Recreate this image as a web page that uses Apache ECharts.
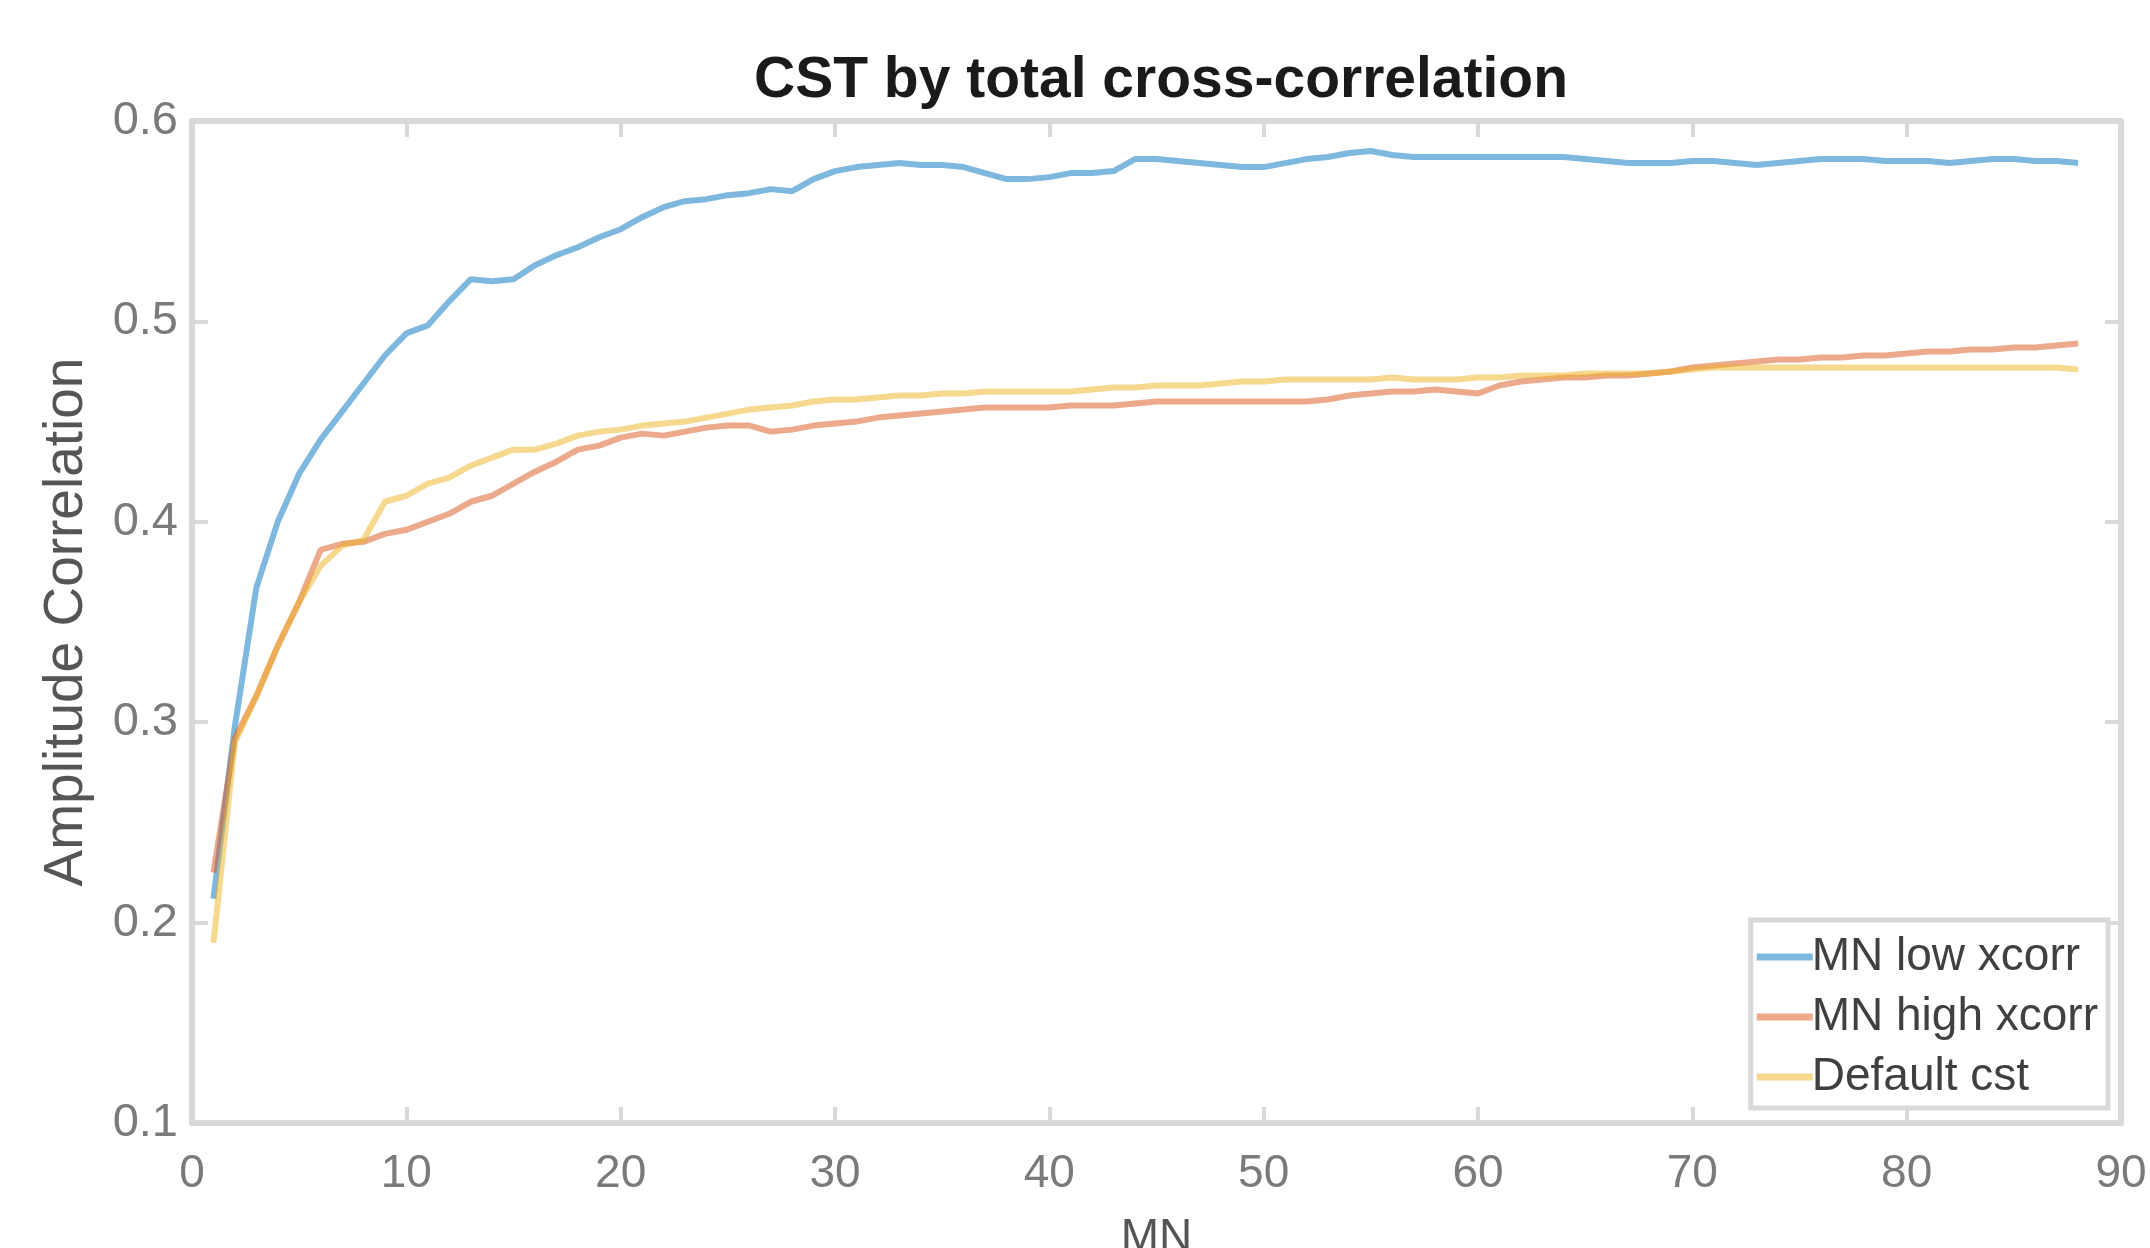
<!DOCTYPE html>
<html>
<head>
<meta charset="utf-8">
<script src="https://cdn.jsdelivr.net/npm/echarts@6/dist/echarts.min.js"></script>
<style>html,body{margin:0;padding:0;background:#fff;}#chart{width:2150px;height:1248px;}</style>
</head>
<body>
<div id="chart"></div>
<script>
const titleText = 'CST by total cross-correlation';
const xName = 'MN';
const yName = 'Amplitude Correlation';
const seriesNames = ['MN low xcorr', 'MN high xcorr', 'Default cst'];
const xTicks = [0, 10, 20, 30, 40, 50, 60, 70, 80, 90];
const yTicks = [0.1, 0.2, 0.3, 0.4, 0.5, 0.6];

const mnLow = [0.212,0.298,0.367,0.400,0.424,0.441,0.455,0.469,0.483,0.494,
0.498,0.510,0.521,0.520,0.521,0.528,0.533,0.537,0.542,0.546,
0.552,0.557,0.560,0.561,0.563,0.564,0.566,0.565,0.571,0.575,
0.577,0.578,0.579,0.578,0.578,0.577,0.574,0.571,0.571,0.572,
0.574,0.574,0.575,0.581,0.581,0.580,0.579,0.578,0.577,0.577,
0.579,0.581,0.582,0.584,0.585,0.583,0.582,0.582,0.582,0.582,
0.582,0.582,0.582,0.582,0.581,0.580,0.579,0.579,0.579,0.580,
0.580,0.579,0.578,0.579,0.580,0.581,0.581,0.581,0.580,0.580,
0.580,0.579,0.580,0.581,0.581,0.580,0.580,0.579];

const mnHigh = [0.225,0.292,0.313,0.338,0.360,0.386,0.389,0.390,0.394,0.396,
0.400,0.404,0.410,0.413,0.419,0.425,0.430,0.436,0.438,0.442,
0.444,0.443,0.445,0.447,0.448,0.448,0.445,0.446,0.448,0.449,
0.450,0.452,0.453,0.454,0.455,0.456,0.457,0.457,0.457,0.457,
0.458,0.458,0.458,0.459,0.460,0.460,0.460,0.460,0.460,0.460,
0.460,0.460,0.461,0.463,0.464,0.465,0.465,0.466,0.465,0.464,
0.468,0.470,0.471,0.472,0.472,0.473,0.473,0.474,0.475,0.477,
0.478,0.479,0.480,0.481,0.481,0.482,0.482,0.483,0.483,0.484,
0.485,0.485,0.486,0.486,0.487,0.487,0.488,0.489];

const defaultCst = [0.190,0.290,0.313,0.338,0.360,0.378,0.388,0.391,0.410,0.413,
0.419,0.422,0.428,0.432,0.436,0.436,0.439,0.443,0.445,0.446,
0.448,0.449,0.450,0.452,0.454,0.456,0.457,0.458,0.460,0.461,
0.461,0.462,0.463,0.463,0.464,0.464,0.465,0.465,0.465,0.465,
0.465,0.466,0.467,0.467,0.468,0.468,0.468,0.469,0.470,0.470,
0.471,0.471,0.471,0.471,0.471,0.472,0.471,0.471,0.471,0.472,
0.472,0.473,0.473,0.473,0.474,0.474,0.474,0.474,0.475,0.476,
0.477,0.477,0.477,0.477,0.477,0.477,0.477,0.477,0.477,0.477,
0.477,0.477,0.477,0.477,0.477,0.477,0.477,0.476];

const colors = ['rgba(0,114,189,0.5)', 'rgba(217,83,25,0.5)', 'rgba(237,177,32,0.5)'];
const FONT = '"Liberation Sans", Arial, Helvetica, sans-serif';
const AXC = '#d9d9d9';

function pairs(arr){ return arr.map((v,i)=>[i+1, v]); }
const allData = [mnLow, mnHigh, defaultCst];

const chart = echarts.init(document.getElementById('chart'), null, {renderer:'canvas'});
const tickStyle = {show:true, inside:true, length:16, lineStyle:{color:AXC, width:4}};
const option = {
  backgroundColor:'#ffffff',
  animation:false,
  title:{text:titleText, left:1156, textAlign:'center', top:48,
    textStyle:{fontFamily:FONT, fontWeight:'bold', fontSize:57, color:'#1a1a1a'}},
  grid:{left:192, right:29, top:121, bottom:125, containLabel:false, outerBoundsMode:'none'},
  legend:{
    orient:'vertical', right:42, bottom:140,
    data:seriesNames,
    icon:'rect', itemWidth:56, itemHeight:7, itemGap:14,
    backgroundColor:'#ffffff', borderColor:AXC, borderWidth:5,
    padding:[14,10,8,6],
    textStyle:{fontFamily:FONT, fontSize:46, color:'#404040', padding:[0,0,0,-6]}
  },
  xAxis:[{
    type:'value', min:xTicks[0], max:xTicks[xTicks.length-1], interval:10,
    name:xName, nameLocation:'middle', nameGap:92,
    nameTextStyle:{fontFamily:FONT, fontSize:46, color:'#555555'},
    axisLine:{show:true, onZero:false, lineStyle:{color:AXC, width:6}},
    axisTick:tickStyle,
    axisLabel:{fontFamily:FONT, fontSize:46, color:'#7a7a7a', margin:28},
    splitLine:{show:false}
  },{
    type:'value', position:'top', min:xTicks[0], max:xTicks[xTicks.length-1], interval:10,
    axisLine:{show:true, onZero:false, lineStyle:{color:AXC, width:6}},
    axisTick:tickStyle, axisLabel:{show:false}, splitLine:{show:false}
  }],
  yAxis:[{
    type:'value', min:yTicks[0], max:yTicks[yTicks.length-1], interval:0.1,
    name:yName, nameLocation:'middle', nameGap:98, nameRotate:90,
    nameTextStyle:{fontFamily:FONT, fontSize:55, color:'#555555'},
    axisLine:{show:true, onZero:false, lineStyle:{color:AXC, width:6}},
    axisTick:tickStyle,
    axisLabel:{fontFamily:FONT, fontSize:47, color:'#7a7a7a', margin:14,
      formatter:v=>v.toFixed(1)},
    splitLine:{show:false}
  },{
    type:'value', position:'right', min:yTicks[0], max:yTicks[yTicks.length-1], interval:0.1,
    axisLine:{show:true, onZero:false, lineStyle:{color:AXC, width:6}},
    axisTick:tickStyle, axisLabel:{show:false}, splitLine:{show:false}
  }],
  series: seriesNames.map((n,i)=>({
    name:n, type:'line', data:pairs(allData[i]), symbol:'none',
    color:colors[i], lineStyle:{width:6, color:colors[i]},
    z:3+i
  }))
};
chart.setOption(option);
</script>
</body>
</html>
